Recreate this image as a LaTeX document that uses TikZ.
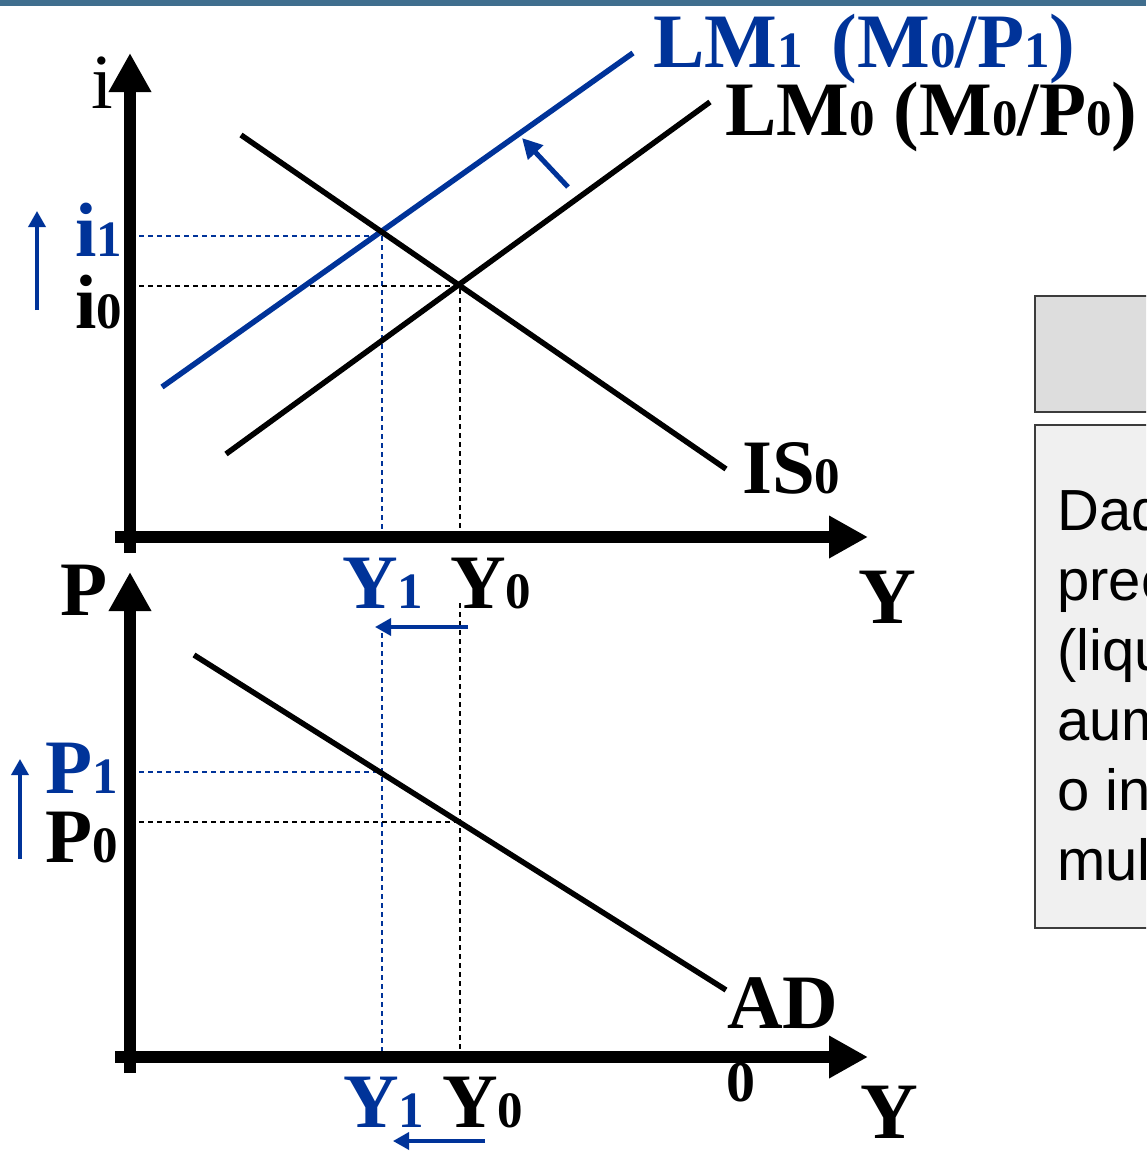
\documentclass[tikz,border=0pt]{standalone}
\usepackage{fontspec}
\setmainfont{Liberation Serif}
\newfontfamily\boxfont{Liberation Sans}
\usetikzlibrary{arrows.meta}
\definecolor{lmblue}{RGB}{0,51,153}
\definecolor{barblue}{RGB}{64,110,142}
\definecolor{hdrgray}{RGB}{221,221,221}
\definecolor{bodygray}{RGB}{240,240,240}
\definecolor{edgegray}{RGB}{60,60,60}
\newcommand\sbx[1]{{\bfseries\fontsize{51}{51}\selectfont #1}}
\begin{document}
\begin{tikzpicture}[x=1pt,y=-1pt,
  axisline/.style={line width=12pt,-{Triangle[length=39pt,width=40pt]}},
  curve/.style={line width=5.5pt},
  guide/.style={line width=1.6pt,dash pattern=on 5pt off 4pt},
  shiftarrow/.style={lmblue,line width=3.5pt,-{Triangle[length=16pt,width=17pt]}},
  lbl/.style={font=\bfseries\fontsize{77}{77}\selectfont,inner sep=0pt,anchor=base west},
  boxline/.style={font=\boxfont\fontsize{58}{70}\selectfont,inner sep=0pt,anchor=base west},
  panel/.style={draw=edgegray,line width=1.5pt,anchor=north west,minimum width=140pt,inner sep=0pt},
]
\useasboundingbox (0,0) rectangle (1146,1151);
\clip (0,0) rectangle (1146,1151);
\fill[barblue] (0,0) rectangle (1146,6);

% right-hand boxes
\node[panel,fill=hdrgray,minimum height=116pt] (hdr) at (1034,295) {};
\node[panel,fill=bodygray,minimum height=503pt] (body) at (1034,424) {};
\node[boxline] (t1) at (1057,530) {Dado};
\node[boxline] (t2) at (1057,600) {preços};
\node[boxline] (t3) at (1057,670) {(liquidez)};
\node[boxline] (t4) at (1057,740) {aumenta};
\node[boxline] (t5) at (1057,810) {o inv};
\node[boxline] (t6) at (1057,880) {mult};

% coordinates
\coordinate (i1) at (130,236);
\coordinate (i0) at (130,286);
\coordinate (e1) at (382,236);
\coordinate (e0) at (460,286);
\coordinate (y1a) at (382,537);
\coordinate (y0a) at (460,537);
\coordinate (p1) at (130,772);
\coordinate (p0) at (130,822);
\coordinate (f1) at (382,772);
\coordinate (f0) at (460,822);
\coordinate (y1t) at (382,633);
\coordinate (y0t) at (460,603);
\coordinate (y1b) at (382,1057);
\coordinate (y0b) at (460,1057);

% guides
\draw[guide,lmblue] (i1) -- (e1) -- (y1a);
\draw[guide] (i0) -- (e0) -- (y0a);
\draw[guide,lmblue] (p1) -- (f1);
\draw[guide,lmblue] (y1t) -- (y1b);
\draw[guide] (p0) -- (f0);
\draw[guide] (y0t) -- (y0b);

% curves
\coordinate (lm1a) at (162,387); \coordinate (lm1b) at (633,53);
\coordinate (lm0a) at (226,454); \coordinate (lm0b) at (710,102);
\coordinate (isa) at (241,135);  \coordinate (isb) at (726,469);
\coordinate (ada) at (194,655);  \coordinate (adb) at (726,990);
\draw[curve,lmblue] (lm1a) -- (lm1b);
\draw[curve] (lm0a) -- (lm0b);
\draw[curve] (isa) -- (isb);
\draw[curve] (ada) -- (adb);

% axes
\coordinate (v1s) at (130,553); \coordinate (v1e) at (130,53);
\coordinate (h1s) at (115,537); \coordinate (h1e) at (868,537);
\coordinate (v2s) at (130,1073); \coordinate (v2e) at (130,572);
\coordinate (h2s) at (115,1057); \coordinate (h2e) at (868,1057);
\draw[axisline] (v1s) -- (v1e);
\draw[axisline] (h1s) -- (h1e);
\draw[axisline] (v2s) -- (v2e);
\draw[axisline] (h2s) -- (h2e);

% shift arrows
\coordinate (a1s) at (37,310); \coordinate (a1e) at (37,211);
\coordinate (a2s) at (20,859); \coordinate (a2e) at (20,759);
\coordinate (a3s) at (568,187); \coordinate (a3e) at (522,138);
\coordinate (a4s) at (468,627); \coordinate (a4e) at (375,627);
\coordinate (a5s) at (485,1141); \coordinate (a5e) at (393,1141);
\draw[shiftarrow] (a1s) -- (a1e);
\draw[shiftarrow] (a2s) -- (a2e);
\draw[shiftarrow,line width=5pt,-{Triangle[length=20pt,width=20pt]}] (a3s) -- (a3e);
\draw[shiftarrow] (a4s) -- (a4e);
\draw[shiftarrow] (a5s) -- (a5e);

% labels
\node[lbl,lmblue] (lm1lbl) at (653,67) {LM\sbx{1}\hspace{10pt} (M\sbx{0}/P\sbx{1})};
\node[lbl] (lm0lbl) at (725,135) {LM\sbx{0} (M\sbx{0}/P\sbx{0})};
\node[lbl,font=\mdseries\fontsize{78}{78}\selectfont] (ilbl) at (91,108) {i};
\node[lbl,lmblue] (i1lbl) at (75,256) {i\sbx{1}};
\node[lbl] (i0lbl) at (75,328) {i\sbx{0}};
\node[lbl] (islbl) at (742,493) {IS\sbx{0}};
\node[lbl,lmblue] (y1lbl) at (342,608) {Y\sbx{1}};
\node[lbl] (y0lbl) at (450,608) {Y\sbx{0}};
\node[lbl,font=\bfseries\fontsize{80}{80}\selectfont] (ylbl) at (858,623) {Y};
\node[lbl] (plbl) at (60,615) {P};
\node[lbl,lmblue] (p1lbl) at (45,793) {P\sbx{1}};
\node[lbl] (p0lbl) at (45,862) {P\sbx{0}};
\node[lbl] (adlbl) at (727,1028) {AD};
\node[lbl,font=\bfseries\fontsize{58}{58}\selectfont] (zlbl) at (726,1101) {0};
\node[lbl,lmblue] (y1blbl) at (343,1127) {Y\sbx{1}};
\node[lbl] (y0blbl) at (442,1127) {Y\sbx{0}};
\node[lbl,font=\bfseries\fontsize{80}{80}\selectfont] (yblbl) at (860,1138) {Y};
\end{tikzpicture}
\end{document}
